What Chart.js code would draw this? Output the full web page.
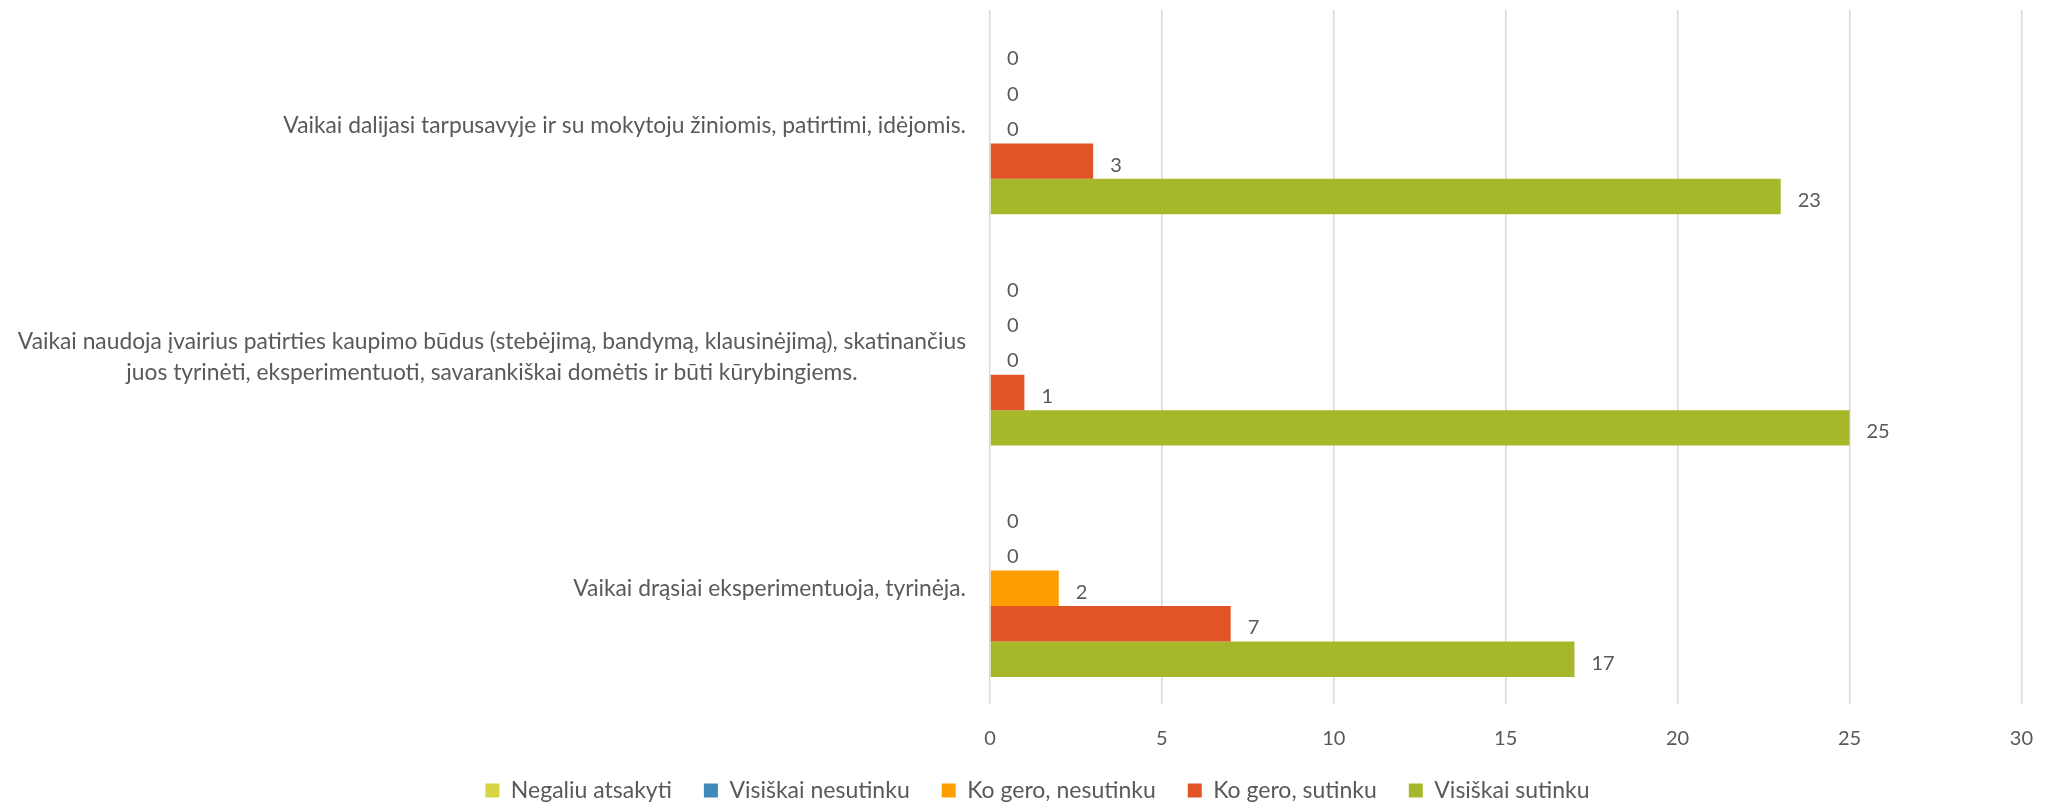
<!DOCTYPE html>
<html>
<head>
<meta charset="utf-8">
<script src="https://cdn.jsdelivr.net/npm/chart.js@4.4.0/dist/chart.umd.min.js"></script>
<style>
  html, body { margin: 0; padding: 0; background: #fff; }
  #wrap { width: 2056px; height: 809px; }
</style>
</head>
<body>
<div id="wrap"><canvas id="myChart" width="2056" height="809"></canvas></div>
<script>
let categories = [
  ['Vaikai dalijasi tarpusavyje ir su mokytoju žiniomis, patirtimi, idėjomis.'],
  ['Vaikai naudoja įvairius patirties kaupimo būdus (stebėjimą, bandymą, klausinėjimą), skatinančius',
   'juos tyrinėti, eksperimentuoti, savarankiškai domėtis ir būti kūrybingiems.'],
  ['Vaikai drąsiai eksperimentuoja, tyrinėja.']
]

let seriesNames = ['Negaliu atsakyti', 'Visiškai nesutinku', 'Ko gero, nesutinku', 'Ko gero, sutinku', 'Visiškai sutinku']
let negaliu = [0, 0, 0]
let visiskaiNesutinku = [0, 0, 0]
let koGeroNesutinku = [0, 0, 2]
let koGeroSutinku = [3, 1, 7]
let visiskaiSutinku = [23, 25, 17]
let xTicks = [0, 5, 10, 15, 20, 25, 30]

let colors = ['#D7D445', '#3F8AB8', '#FF9E00', '#E05426', '#A6B82A']
let textColor = '#595959'
let fontFamily = 'Lato, "Open Sans", sans-serif'

let seriesValues = [negaliu, visiskaiNesutinku, koGeroNesutinku, koGeroSutinku, visiskaiSutinku]

// value labels at the end of each bar
const barLabels = {
  id: 'barLabels',
  afterDatasetsDraw(chart) {
    let ctx = chart.ctx
    ctx.save()
    ctx.fillStyle = textColor
    ctx.font = `20px ${fontFamily}`
    ctx.textAlign = 'left'
    ctx.textBaseline = 'middle'
    chart.data.datasets.forEach((ds, i) => {
      chart.getDatasetMeta(i).data.forEach((bar, j) => {
        ctx.fillText(String(ds.data[j]), bar.x + 17, bar.y + 4)
      })
    })
    ctx.restore()
  }
}

// category labels: block right aligned to axis, lines centered inside block
const catLabels = {
  id: 'catLabels',
  afterDraw(chart) {
    let ctx = chart.ctx
    let y = chart.scales.y
    ctx.save()
    ctx.fillStyle = textColor
    ctx.font = `22.8px ${fontFamily}`
    ctx.textAlign = 'center'
    ctx.textBaseline = 'middle'
    let lineH = 31
    categories.forEach((lines, i) => {
      let cy = y.getPixelForTick(i)
      let w = Math.max(...lines.map(l => ctx.measureText(l).width))
      let cx = y.right - 24 - w / 2
      lines.forEach((l, k) => {
        ctx.fillText(l, cx, cy + (k - (lines.length - 1) / 2) * lineH)
      })
    })
    ctx.restore()
  }
}

// x axis is squeezed so the legend sits close under it; let its labels draw past the box
const xLabelRoom = {
  id: 'xLabelRoom',
  afterLayout(chart) {
    chart.scales.x.bottom = chart.height
  }
}

const chart = new Chart(document.querySelector('#myChart'), {
  type: 'bar',
  data: {
    labels: categories,
    datasets: seriesNames.map((name, i) => ({
      label: name,
      data: seriesValues[i],
      backgroundColor: colors[i],
      borderWidth: 0,
      categoryPercentage: 0.766,
      barPercentage: 1
    }))
  },
  options: {
    indexAxis: 'y',
    responsive: false,
    animation: false,
    layout: { padding: { top: 10, right: 27, left: 46, bottom: -3 } },
    scales: {
      x: {
        min: 0,
        max: 30,
        afterBuildTicks: scale => { scale.ticks = xTicks.map(v => ({ value: v })) },
        afterFit: scale => { scale.height = 43 },
        grid: { color: '#D9D9D9', lineWidth: 1.5, drawTicks: false },
        border: { display: false },
        ticks: { color: textColor, font: { family: fontFamily, size: 20 }, padding: 23 }
      },
      y: {
        grid: { display: false },
        border: { display: false },
        ticks: { display: false },
        afterFit: scale => { scale.width = 944 }
      }
    },
    plugins: {
      legend: {
        position: 'bottom',
        labels: {
          color: textColor,
          font: { family: fontFamily, size: 23 },
          boxWidth: 14,
          boxHeight: 14,
          padding: 32
        }
      },
      tooltip: { enabled: false }
    }
  },
  plugins: [barLabels, catLabels, xLabelRoom]
})
</script>
</body>
</html>
